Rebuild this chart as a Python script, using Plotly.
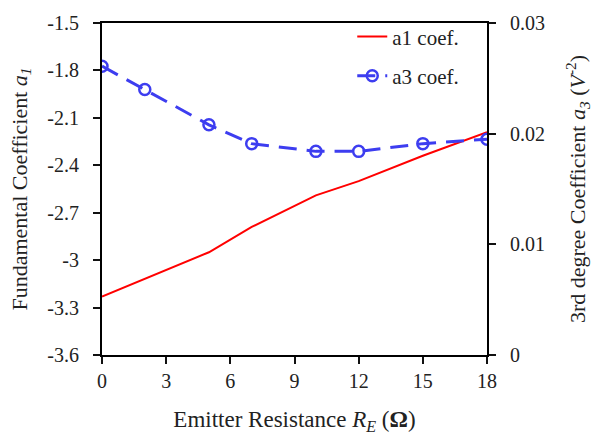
import plotly.graph_objects as go

re_ohm = [0, 2, 5, 7, 10, 12, 15, 18]
a1_coef = [-3.23, -3.12, -2.95, -2.79, -2.59, -2.50, -2.34, -2.19]
a3_coef = [0.0261, 0.0240, 0.0208, 0.0191, 0.0184, 0.0184, 0.0191, 0.0195]

x_ticks = [0, 3, 6, 9, 12, 15, 18]
y1_ticks = [-1.5, -1.8, -2.1, -2.4, -2.7, -3.0, -3.3, -3.6]
y1_labels = ["-1.5", "-1.8", "-2.1", "-2.4", "-2.7", "-3", "-3.3", "-3.6"]
y2_ticks = [0, 0.01, 0.02, 0.03]
y2_labels = ["0", "0.01", "0.02", "0.03"]

FONT = "Liberation Serif"
PAD = "\u00a0\u00a0"

fig = go.Figure()
fig.add_trace(go.Scatter(
    x=re_ohm, y=a1_coef, name="a1 coef.", mode="lines",
    line=dict(color="#ff0000", width=2), legendgroup="g1"))
fig.add_trace(go.Scatter(
    x=re_ohm, y=a3_coef, name="a3 coef.", mode="lines+markers", yaxis="y2",
    line=dict(color="#3d3df0", width=3, dash="18px,10px"),
    marker=dict(symbol="circle-open", size=11, color="#3d3df0", line=dict(width=2.5)),
    legendgroup="g2"))

axis_common = dict(showline=True, linecolor="black", linewidth=2, ticks="outside",
                   ticklen=7, tickwidth=2, tickcolor="#111111", showgrid=False,
                   zeroline=False, tickfont=dict(family=FONT, size=20, color="#222"))

fig.update_layout(
    width=598, height=440,
    margin=dict(l=102, r=111, t=12, b=85),
    paper_bgcolor="white", plot_bgcolor="white",
    font=dict(family=FONT, size=20, color="#222"),
    showlegend=True,
    legend=dict(x=0.65, y=1.02, xanchor="left", yanchor="top",
                font=dict(family=FONT, size=21, color="#222"),
                bgcolor="rgba(0,0,0,0)", tracegroupgap=9),
    xaxis=dict(range=[0, 18], tickvals=x_ticks, mirror=True,
               title=dict(text="Emitter Resistance <i>R<sub>E</sub></i> (<b>Ω</b>)",
                          font=dict(family=FONT, size=23), standoff=20),
               **axis_common),
    yaxis=dict(range=[-3.6, -1.5], tickvals=y1_ticks,
               ticktext=[t + PAD for t in y1_labels],
               title=dict(text="Fundamental Coefficient <i>a<sub>1</sub></i>",
                          font=dict(family=FONT, size=22), standoff=14),
               **axis_common),
    yaxis2=dict(range=[0, 0.03], tickvals=y2_ticks,
                ticktext=[PAD + t for t in y2_labels],
                overlaying="y", side="right",
                title=dict(text="3rd degree Coefficient <i>a<sub>3</sub></i> (<i>V</i><sup>-2</sup>)",
                           font=dict(family=FONT, size=22), standoff=26),
                **axis_common),
)

fig.write_html("out.html")
